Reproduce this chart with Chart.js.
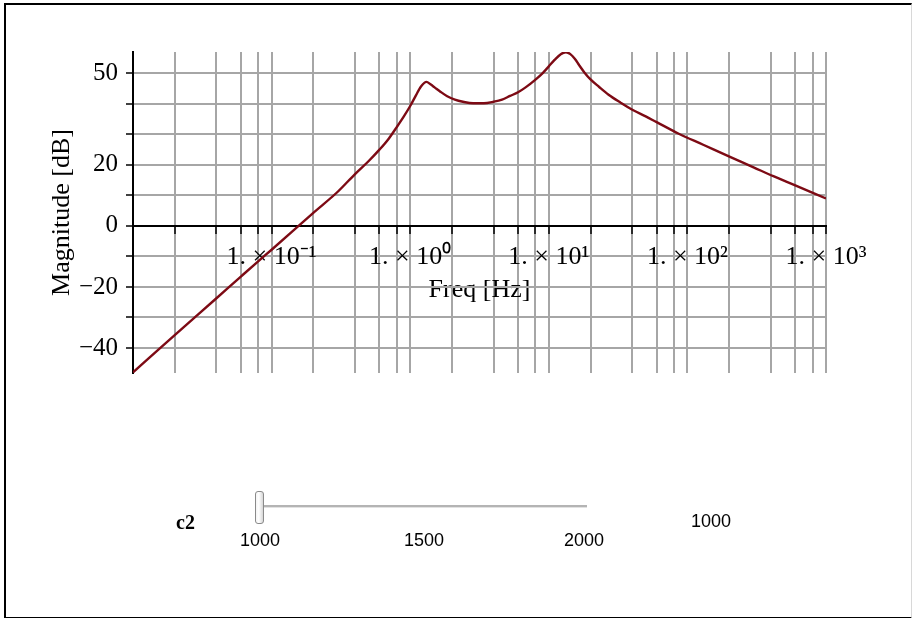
<!DOCTYPE html>
<html>
<head>
<meta charset="utf-8">
<script src="https://cdn.jsdelivr.net/npm/chart.js@4.4.1/dist/chart.umd.min.js"></script>
<style>
  html, body { margin: 0; padding: 0; background: #fff; }
  #wrap { position: relative; width: 913px; height: 618px; overflow: hidden; }
  #plot { position: absolute; left: 0; top: 0; }
  #frame {
    position: absolute; left: 4px; top: 3px; width: 905px; height: 612px;
    border-left: 2px solid #000; border-top: 2px solid #000; border-bottom: 2px solid #000;
    border-right: 1px solid #d8d8d8; pointer-events: none;
  }
  .lbl { position: absolute; font-family: "Liberation Sans", Arial, sans-serif; font-size: 18px; color: #000; }
  #c2 { position: absolute; left: 176px; top: 511px; font-family: "Liberation Serif", "Times New Roman", serif; font-weight: bold; font-size: 20px; }
  #track { position: absolute; left: 263px; top: 505px; width: 324px; height: 2px; background: #b4b4b4; border-bottom: 1px solid #e2e2e2; }
  #thumb {
    position: absolute; left: 255px; top: 491px; width: 7px; height: 31px;
    border: 1px solid #8a8a8a; border-radius: 3px;
    background: linear-gradient(to right, #f4f4f4, #ffffff 40%, #d6d6d6);
  }
</style>
</head>
<body>
<div id="wrap">
  <canvas id="plot" width="913" height="618"></canvas>
  <div id="c2">c2</div>
  <div id="track"></div>
  <div id="thumb"></div>
  <div class="lbl" style="left:240px; top:530px;">1000</div>
  <div class="lbl" style="left:404px; top:530px;">1500</div>
  <div class="lbl" style="left:564px; top:530px;">2000</div>
  <div class="lbl" style="left:691px; top:511px;">1000</div>
  <div id="frame"></div>
</div>
<script>
// readings of the magnitude curve (Hz -> dB)
const freqHz = [0.01, 0.02, 0.04, 0.06, 0.08, 0.1, 0.2, 0.3, 0.4, 0.5, 0.6, 0.7, 0.8, 0.9,
                1.0, 1.1, 1.2, 1.31, 1.4, 1.5, 1.65, 1.85, 2.1, 2.4, 2.85, 3.4, 4.0, 4.6,
                5.25, 6.0, 6.8, 7.9, 9.0, 10.0, 11.0, 12.2, 13.3, 14.3, 15.4, 16.6, 18.0,
                20.0, 23.0, 27.0, 33.0, 40.7, 50, 60, 85.9, 130, 203, 300, 417, 600, 1000];
const magDb = [-48.0, -35.8, -23.7, -16.6, -11.6, -7.8, 4.3, 11.2, 17.0, 21.2, 25.0, 28.6, 32.4, 35.9,
               39.3, 42.8, 45.8, 47.2, 46.4, 45.4, 44.0, 42.5, 41.4, 40.7, 40.2, 40.2, 40.7, 41.4,
               42.6, 43.8, 45.4, 47.7, 50.0, 52.3, 54.4, 56.3, 56.9, 56.3, 54.8, 52.6, 50.4,
               48.0, 45.6, 43.0, 40.4, 37.9, 35.9, 34.0, 30.3, 26.6, 22.6, 19.2, 16.3, 13.3, 9.0];

// axis ticks
const xGridHz = [0.01, 0.02, 0.04, 0.06, 0.08, 0.1, 0.2, 0.4, 0.6, 0.8, 1, 2, 4, 6, 8,
                 10, 20, 40, 60, 80, 100, 200, 400, 600, 800, 1000];
const xDecadeLabels = { 0.1: '1. × 10⁻¹', 1: '1. × 10⁰', 10: '1. × 10¹', 100: '1. × 10²', 1000: '1. × 10³' };
const yGridDb = [-40, -30, -20, -10, 0, 10, 20, 30, 40, 50];
const yLabeledDb = [-40, -20, 0, 20, 50];

const serif = '"Liberation Serif", "Times New Roman", serif';
const gridGrey = '#a6a6a6';

new Chart(document.getElementById('plot'), {
    type: 'line',
    data: {
        datasets: [{
            data: freqHz.map((f, i) => ({ x: f, y: magDb[i] })),
            borderColor: 'rgb(125, 10, 20)',
            borderWidth: 2.4,
            pointRadius: 0,
            cubicInterpolationMode: 'monotone',
            fill: false
        }]
    },
    options: {
        responsive: false,
        animation: false,
        layout: { padding: { left: 0, top: 52, right: 87, bottom: 245 } },
        plugins: { legend: { display: false }, tooltip: { enabled: false } },
        scales: {
            x: {
                type: 'logarithmic',
                min: 0.01,
                max: 1000,
                position: { y: 0 },
                afterBuildTicks: s => { s.ticks = xGridHz.map(v => ({ value: v })); },
                afterFit: s => { s.height = 80; },
                grid: { color: gridGrey, lineWidth: 2, tickLength: 7, tickColor: '#000', tickWidth: 1.5 },
                border: { color: '#000', width: 2 },
                ticks: {
                    autoSkip: false, maxRotation: 0, minRotation: 0, padding: 9, color: '#000',
                    font: { family: serif, size: 26 },
                    callback: v => xDecadeLabels[v] || ''
                },
                title: {
                    display: true, text: 'Freq [Hz]', color: '#000',
                    font: { family: serif, size: 26 }, padding: { top: 0, bottom: 0 }
                }
            },
            y: {
                min: -48.2,
                max: 57.0,
                afterBuildTicks: s => { s.ticks = yGridDb.map(v => ({ value: v })); },
                afterFit: s => { s.width = 133; },
                grid: { color: gridGrey, lineWidth: 2, tickLength: 7, tickColor: '#000', tickWidth: 1.5 },
                border: { color: '#000', width: 2 },
                ticks: {
                    padding: 8, color: '#000',
                    font: { family: serif, size: 25 },
                    callback: v => yLabeledDb.includes(v) ? String(v).replace('-', '\u2212') : ''
                },
                title: {
                    display: true, text: 'Magnitude [dB]', color: '#000',
                    font: { family: serif, size: 26 }, padding: { top: 47, bottom: 0 }
                }
            }
        }
    }
});
</script>
</body>
</html>
